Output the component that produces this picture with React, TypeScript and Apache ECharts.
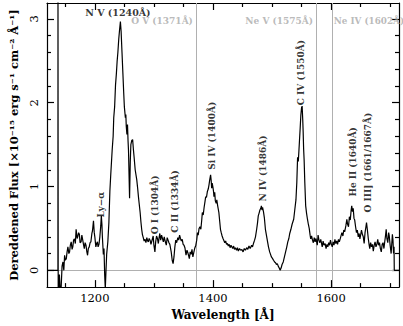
import React, { useEffect, useRef } from "react";
import * as echarts from "echarts";

const wavelengths = [
  1119, 1137.5, 1137.6, 1138, 1140, 1141.5, 1143, 1144.5, 1146, 1147.5, 1148.8, 1150, 1151.7, 1153, 1154.4, 1156, 1157.2, 1158.5, 1160, 1161.5,
  1162.7, 1164, 1165.5, 1167, 1168.3, 1170, 1171, 1172.5, 1173.8, 1175, 1176.7, 1178, 1179.3, 1181, 1182.2, 1183.5, 1185, 1186.5, 1187.7, 1189,
  1190.5, 1192, 1193.3, 1195, 1196, 1197.7, 1199, 1200, 1201.7, 1203, 1204.4, 1205.5, 1207, 1208.5, 1210, 1211, 1212, 1212.7, 1214.4, 1215.5,
  1216.7, 1217.7, 1218.8, 1220, 1222, 1223.8, 1225.5, 1227, 1229.3, 1231, 1232, 1233.5, 1235, 1236.5, 1237.7, 1239, 1240.5, 1242, 1243.3, 1244.5,
  1246, 1247.5, 1248.8, 1250, 1251.7, 1252.5, 1253.2, 1254.3, 1255.3, 1256.2, 1257, 1258.8, 1260, 1261, 1262.5, 1264, 1265.2, 1266.5, 1268.3, 1271,
  1272.5, 1273.8, 1275, 1276.7, 1278, 1279.3, 1280.5, 1282, 1283.5, 1285, 1286.5, 1288, 1289.5, 1290.5, 1292, 1293.5, 1295, 1296.5, 1298.8, 1300,
  1301.7, 1303, 1304.5, 1306, 1307.5, 1309, 1310, 1311.5, 1313, 1314.5, 1316, 1317.5, 1319, 1321, 1322.5, 1324, 1325.5, 1327, 1329.3, 1331,
  1332.5, 1334, 1335.5, 1337, 1338.5, 1340.5, 1342, 1343.5, 1345, 1346.5, 1348, 1349.5, 1351, 1352.5, 1354.4, 1356, 1357.5, 1359, 1360, 1361.5,
  1363, 1364.5, 1366, 1367.5, 1369, 1371, 1372.5, 1373.8, 1375, 1376.5, 1378, 1379.5, 1381, 1382, 1383.5, 1385, 1386.5, 1387.7, 1389, 1390.5,
  1392, 1393.3, 1394.5, 1396, 1397, 1397.8, 1398.7, 1400, 1401, 1401.7, 1403, 1404, 1405.5, 1406.5, 1408, 1410, 1411.5, 1412.7, 1414, 1415.5,
  1417, 1418.3, 1420, 1421.5, 1423, 1424.5, 1426, 1427.5, 1429, 1430.5, 1432, 1433.5, 1435, 1436.5, 1438, 1440, 1441.5, 1443, 1445, 1447,
  1449, 1451, 1453, 1455, 1457, 1459, 1461, 1463, 1465.5, 1467, 1469, 1470.5, 1472, 1474, 1475.5, 1476.7, 1478, 1479.5, 1481, 1482,
  1483, 1484, 1485.5, 1487, 1488.8, 1490.5, 1492.5, 1494, 1496, 1497.5, 1499, 1501, 1502.5, 1504.4, 1506, 1507.5, 1509, 1510.5, 1512, 1513.8,
  1515.5, 1517, 1519, 1521, 1523, 1525, 1526.7, 1528.5, 1530, 1532, 1534, 1536.7, 1538.5, 1540.5, 1542, 1543.3, 1544.5, 1545.5, 1546.5, 1547.7,
  1548.8, 1550, 1551, 1552, 1552.7, 1553.5, 1554.4, 1555.5, 1557, 1558.5, 1560, 1561.5, 1563, 1564.5, 1565.5, 1567, 1568.5, 1570, 1571.5, 1573,
  1574.5, 1576.6, 1578, 1579.5, 1581, 1582.5, 1585, 1586.5, 1588, 1590, 1591.5, 1593, 1594.5, 1596, 1597.5, 1599, 1600.5, 1602, 1603.5, 1605,
  1606.5, 1608, 1609.5, 1611, 1612.5, 1614, 1616, 1618.3, 1620, 1621.5, 1623, 1625, 1626.7, 1628, 1629.5, 1631, 1632.5, 1634, 1635, 1636.2,
  1637.5, 1638.8, 1640, 1641.5, 1643, 1644.5, 1646, 1647.5, 1648.8, 1650, 1651.5, 1653, 1654.5, 1656, 1657.5, 1659, 1660, 1661.5, 1663, 1664.5,
  1665.5, 1667, 1668.5, 1670, 1671.5, 1673, 1674.5, 1676, 1677.5, 1679, 1680.5, 1682, 1683.5, 1685, 1686.5, 1688, 1689.5, 1691, 1692.3, 1693.3,
  1694.5, 1696, 1697.5, 1698.5, 1700, 1701.7, 1702.8, 1703.8, 1704.8, 1705.8, 1706.6, 1707, 1715,
];

const fluxes = [
  0, 0, 3.4, -0.4, -0.05, -0.25, -0.2, 0.05, 0.1, 0.0, 0.18, 0.12, 0.14, 0.22, 0.28, 0.2, 0.22, 0.3, 0.34, 0.25,
  0.28, 0.36, 0.375, 0.32, 0.49, 0.38, 0.4, 0.45, 0.43, 0.33, 0.34, 0.42, 0.37, 0.3, 0.26, 0.33, 0.3, 0.22, 0.18, 0.26,
  0.28, 0.33, 0.34, 0.44, 0.47, 0.59, 0.45, 0.4, 0.28, 0.32, 0.34, 0.28, 0.31, 0.4, 0.53, 0.65, 0.55, 0.41, 0.19, 0.26,
  -0.06, -0.22, -0.02, 0.19, 0.34, 0.57, 0.95, 1.15, 1.43, 1.6, 1.82, 1.95, 2.21, 2.35, 2.49, 2.6, 2.76, 2.88, 2.97, 2.85,
  2.6, 2.35, 2.13, 1.95, 1.82, 1.86, 1.72, 1.62, 1.74, 1.55, 1.43, 0.86, 1.3, 1.5, 1.55, 1.56, 1.45, 1.35, 1.2, 1.08,
  0.98, 0.88, 0.8, 0.69, 0.58, 0.49, 0.43, 0.39, 0.35, 0.37, 0.33, 0.39, 0.35, 0.34, 0.38, 0.36, 0.31, 0.35, 0.41, 0.3,
  0.22, 0.34, 0.41, 0.38, 0.32, 0.4, 0.44, 0.36, 0.42, 0.38, 0.34, 0.4, 0.35, 0.3, 0.39, 0.36, 0.33, 0.31, 0.22, 0.12,
  0.08, 0.16, 0.28, 0.36, 0.33, 0.39, 0.36, 0.42, 0.38, 0.35, 0.37, 0.31, 0.3, 0.27, 0.18, 0.24, 0.21, 0.17, 0.14, 0.22,
  0.19, 0.25, 0.16, 0.21, 0.26, 0.3, 0.36, 0.45, 0.42, 0.5, 0.52, 0.49, 0.6, 0.69, 0.66, 0.75, 0.82, 0.88, 0.87, 0.94,
  0.97, 1.02, 1.08, 1.14, 1.07, 0.98, 1.04, 0.99, 0.94, 0.88, 0.93, 0.83, 0.8, 0.84, 0.77, 0.69, 0.58, 0.49, 0.45, 0.41,
  0.38, 0.36, 0.33, 0.35, 0.31, 0.32, 0.29, 0.31, 0.27, 0.3, 0.28, 0.26, 0.29, 0.25, 0.27, 0.24, 0.27, 0.23, 0.26, 0.24,
  0.25, 0.22, 0.26, 0.24, 0.27, 0.25, 0.29, 0.26, 0.3, 0.28, 0.33, 0.36, 0.4, 0.49, 0.57, 0.65, 0.68, 0.72, 0.74, 0.77,
  0.72, 0.75, 0.7, 0.63, 0.49, 0.42, 0.34, 0.28, 0.22, 0.19, 0.16, 0.14, 0.12, 0.1, 0.09, 0.07, 0.08, 0.05, 0.03, 0.0,
  0.03, 0.07, 0.1, 0.16, 0.22, 0.28, 0.34, 0.38, 0.44, 0.49, 0.55, 0.61, 0.72, 0.84, 1.05, 1.35, 1.3, 1.42, 1.55, 1.7,
  1.85, 1.94, 1.96, 1.8, 1.66, 1.45, 1.31, 1.05, 0.77, 0.68, 0.61, 0.55, 0.5, 0.42, 0.375, 0.41, 0.36, 0.33, 0.39, 0.34,
  0.38, 0.3, 0.42, 0.36, 0.33, 0.37, 0.28, 0.35, 0.3, 0.32, 0.26, 0.31, 0.28, 0.33, 0.3, 0.36, 0.31, 0.28, 0.34, 0.3,
  0.37, 0.32, 0.35, 0.31, 0.37, 0.34, 0.39, 0.45, 0.41, 0.48, 0.46, 0.53, 0.61, 0.55, 0.52, 0.64, 0.6, 0.72, 0.77, 0.7,
  0.74, 0.62, 0.6, 0.52, 0.45, 0.48, 0.4, 0.44, 0.375, 0.42, 0.48, 0.43, 0.4, 0.32, 0.45, 0.52, 0.57, 0.48, 0.38, 0.3,
  0.26, 0.33, 0.28, 0.31, 0.23, 0.3, 0.34, 0.28, 0.31, 0.37, 0.3, 0.33, 0.26, 0.22, 0.31, 0.33, 0.26, 0.35, 0.42, 0.49,
  0.38, 0.33, 0.45, 0.41, 0.3, 0.2, 0.32, 0.43, 0.36, 0.2, 0.28, 0.0, 0.0,
];

const xRange = [1119, 1715];
const yRange = [-0.2, 3.19];
const xMajorTicks = [1200, 1400, 1600];
const xMinorTicks = [1150, 1250, 1300, 1350, 1450, 1500, 1550, 1650, 1700];
const yMajorTicks = [0, 1, 2, 3];
const yMinorTicks = [0.2, 0.4, 0.6, 0.8, 1.2, 1.4, 1.6, 1.8, 2.2, 2.4, 2.6, 2.8];

const referenceLines = [1371, 1575, 1602];

const topLabelTexts = ["N V (1240Å)", "O V (1371Å)", "Ne V (1575Å)", "Ne IV (1602Å)"];
const topLabelX = [1239, 1366, 1569.5, 1604.5];
const topLabelY = [3.08, 2.98, 2.98, 2.98];
const topLabelColors = ["#000000", "#a8a8a8", "#a8a8a8", "#a8a8a8"];
const topLabelAlign = ["center", "right", "right", "left"];
const topLabelSizes = [9.5, 9, 9, 8.8];

const lineLabelTexts = [
  "Ly−α",
  "O I (1304Å)",
  "C II (1334Å)",
  "Si IV (1400Å)",
  "N IV (1486Å)",
  "C IV (1550Å)",
  "He II (1640Å)",
  "O III] (1661/1667Å)",
];
const lineLabelX = [1210.5, 1301.7, 1335, 1397.7, 1485, 1549, 1636.7, 1661.7];
const lineLabelY = [0.63, 0.43, 0.45, 1.2, 0.82, 1.97, 0.88, 0.69];

const FONT = "DejaVu Serif";

export default function App() {
  const ref = useRef<HTMLDivElement>(null);

  useEffect(() => {
    if (!ref.current) return;
    const chart = echarts.init(ref.current, undefined, { renderer: "svg" });

    const spectrum = wavelengths.map((w, i) => [w, fluxes[i]]);

    const axisBase = (pos: string) => ({
      type: "value" as const,
      position: pos,
      splitLine: { show: false },
    });

    const xBase = { min: xRange[0], max: xRange[1] };
    const yBase = { min: yRange[0], max: yRange[1] };
    const lineStyle = { color: "#000", width: 1.2 };

    const option: any = {
      animation: false,
      backgroundColor: "#ffffff",
      grid: { left: 42, right: 4, top: 3, bottom: 34, containLabel: false },
      xAxis: [
        {
          ...axisBase("bottom"),
          ...xBase,
          axisLine: { show: true, onZero: false, lineStyle },
          axisTick: { show: true, inside: true, length: 7, customValues: xMajorTicks, lineStyle },
          axisLabel: {
            show: true,
            customValues: xMajorTicks,
            formatter: (v: number) => String(v),
            color: "#000",
            fontFamily: FONT,
            fontSize: 11.5,
            margin: 5,
          },
          name: "Wavelength [Å]",
          nameLocation: "middle",
          nameGap: 20,
          nameTextStyle: { color: "#000", fontFamily: FONT, fontSize: 12, fontWeight: "bold" },
        },
        {
          ...axisBase("bottom"),
          ...xBase,
          axisLine: { show: false, onZero: false },
          axisTick: { show: true, inside: true, length: 4, customValues: xMinorTicks, lineStyle },
          axisLabel: { show: false },
        },
        {
          ...axisBase("top"),
          ...xBase,
          axisLine: { show: true, onZero: false, lineStyle },
          axisTick: { show: true, inside: true, length: 7, customValues: xMajorTicks, lineStyle },
          axisLabel: { show: false },
        },
        {
          ...axisBase("top"),
          ...xBase,
          axisLine: { show: false, onZero: false },
          axisTick: { show: true, inside: true, length: 4, customValues: xMinorTicks, lineStyle },
          axisLabel: { show: false },
        },
      ],
      yAxis: [
        {
          ...axisBase("left"),
          ...yBase,
          axisLine: { show: true, onZero: false, lineStyle },
          axisTick: { show: true, inside: true, length: 7, customValues: yMajorTicks, lineStyle },
          axisLabel: {
            show: true,
            customValues: yMajorTicks,
            formatter: (v: number) => String(v),
            color: "#000",
            fontFamily: FONT,
            fontSize: 11.5,
            rotate: 90,
            margin: 7,
          },
          name: "Dereddened Flux [×10⁻¹⁵ erg s⁻¹ cm⁻² Å⁻¹]",
          nameLocation: "middle",
          nameGap: 27,
          nameTextStyle: { color: "#000", fontFamily: FONT, fontSize: 11.5, fontWeight: "bold" },
        },
        {
          ...axisBase("left"),
          ...yBase,
          axisLine: { show: false, onZero: false },
          axisTick: { show: true, inside: true, length: 4, customValues: yMinorTicks, lineStyle },
          axisLabel: { show: false },
        },
        {
          ...axisBase("right"),
          ...yBase,
          axisLine: { show: true, onZero: false, lineStyle },
          axisTick: { show: true, inside: true, length: 7, customValues: yMajorTicks, lineStyle },
          axisLabel: { show: false },
        },
        {
          ...axisBase("right"),
          ...yBase,
          axisLine: { show: false, onZero: false },
          axisTick: { show: true, inside: true, length: 4, customValues: yMinorTicks, lineStyle },
          axisLabel: { show: false },
        },
      ],
      series: [
        {
          type: "line",
          xAxisIndex: 0,
          yAxisIndex: 0,
          data: spectrum,
          showSymbol: false,
          symbol: "none",
          clip: true,
          z: 5,
          lineStyle: { color: "#000", width: 1.2 },
          markLine: {
            silent: true,
            symbol: "none",
            label: { show: false },
            z: 1,
            lineStyle: { color: "#b0b0b0", width: 1, type: "solid" },
            data: [...referenceLines.map((v) => ({ xAxis: v })), { yAxis: 0 }],
          },
        },
        {
          type: "scatter",
          xAxisIndex: 0,
          yAxisIndex: 0,
          symbolSize: 0,
          silent: true,
          z: 6,
          data: topLabelTexts.map((t, i) => ({
            value: [topLabelX[i], topLabelY[i]],
            label: {
              show: true,
              position: "inside",
              formatter: t,
              align: topLabelAlign[i],
              verticalAlign: "middle",
              color: topLabelColors[i],
              fontFamily: FONT,
              fontSize: topLabelSizes[i],
              fontWeight: "bold",
            },
          })),
        },
        {
          type: "scatter",
          xAxisIndex: 0,
          yAxisIndex: 0,
          symbolSize: 0,
          silent: true,
          z: 6,
          data: lineLabelTexts.map((t, i) => ({
            value: [lineLabelX[i], lineLabelY[i]],
            label: {
              show: true,
              position: "inside",
              formatter: t,
              rotate: 90,
              align: "left",
              verticalAlign: "middle",
              color: "#000",
              fontFamily: FONT,
              fontSize: 9,
              fontWeight: "bold",
            },
          })),
        },
      ],
    };

    chart.setOption(option);
    return () => chart.dispose();
  }, []);

  return (
    <div
      ref={ref}
      style={{ position: "fixed", left: 0, top: 0, width: 403, height: 326, background: "#fff" }}
    />
  );
}
